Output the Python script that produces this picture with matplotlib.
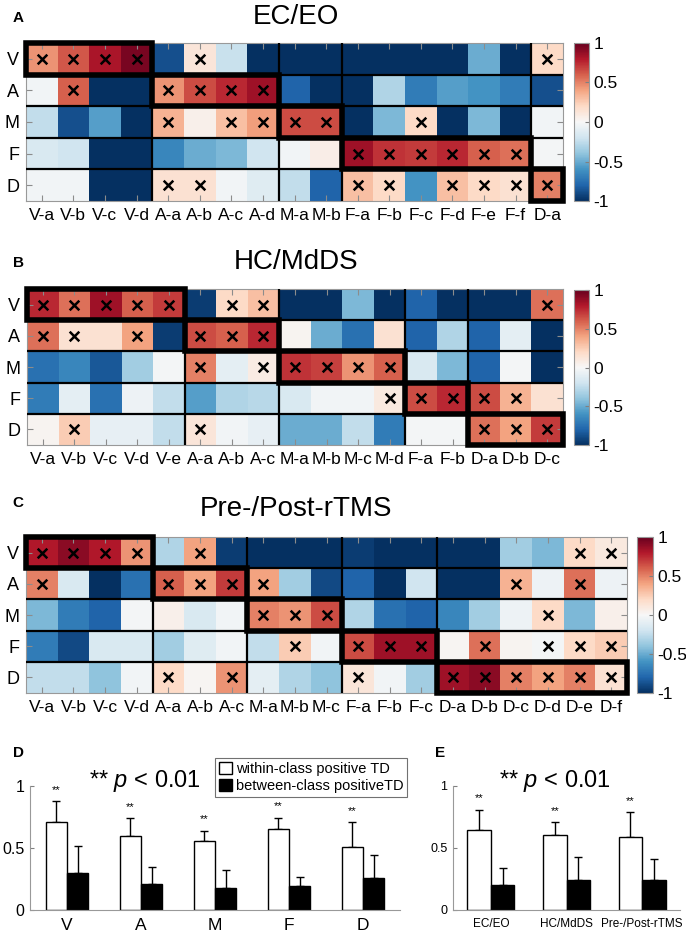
import numpy as np
import matplotlib
matplotlib.use('Agg')
import matplotlib.pyplot as plt
from matplotlib.patches import Rectangle

plt.rcParams['font.family'] = ['Liberation Sans', 'DejaVu Sans']
plt.rcParams['axes.unicode_minus'] = False
plt.rcParams['mathtext.fontset'] = 'custom'
plt.rcParams['mathtext.it'] = 'Liberation Sans:italic'
plt.rcParams['mathtext.rm'] = 'Liberation Sans'

rows = ['V', 'A', 'M', 'F', 'D']

# ---------------- Panel A : EC/EO ----------------
colsA = ['V-a', 'V-b', 'V-c', 'V-d', 'A-a', 'A-b', 'A-c', 'A-d', 'M-a', 'M-b',
         'F-a', 'F-b', 'F-c', 'F-d', 'F-e', 'F-f', 'D-a']
valsA = [
    [0.45, 0.62, 0.82, 0.95, -0.88, 0.12, -0.22, -1, -1, -1, -1, -1, -1, -1, -0.5, -1, 0.2],
    [-0.03, 0.6, -1, -1, 0.45, 0.65, 0.75, 0.85, -0.8, -1, -1, -0.3, -0.7, -0.55, -0.6, -0.7, -0.88],
    [-0.25, -0.88, -0.55, -1, 0.35, 0.05, 0.3, 0.42, 0.65, 0.65, -1, -0.45, 0.2, -1, -0.45, -1, -0.03],
    [-0.15, -0.2, -1, -1, -0.65, -0.5, -0.45, -0.2, -0.03, 0.07, 0.85, 0.72, 0.7, 0.75, 0.6, 0.55, -0.02],
    [-0.03, -0.03, -1, -1, 0.15, 0.15, -0.03, -0.12, -0.25, -0.8, 0.3, 0.2, -0.6, 0.3, 0.2, 0.15, 0.5],
]
marksA = [
    [1, 1, 1, 1, 0, 1, 0, 0, 0, 0, 0, 0, 0, 0, 0, 0, 1],
    [0, 1, 0, 0, 1, 1, 1, 1, 0, 0, 0, 0, 0, 0, 0, 0, 0],
    [0, 0, 0, 0, 1, 0, 1, 1, 1, 1, 0, 0, 1, 0, 0, 0, 0],
    [0, 0, 0, 0, 0, 0, 0, 0, 0, 0, 1, 1, 1, 1, 1, 1, 0],
    [0, 0, 0, 0, 1, 1, 0, 0, 0, 0, 1, 1, 0, 1, 1, 1, 1],
]

# ---------------- Panel B : HC/MdDS ----------------
colsB = ['V-a', 'V-b', 'V-c', 'V-d', 'V-e', 'A-a', 'A-b', 'A-c', 'M-a', 'M-b',
         'M-c', 'M-d', 'F-a', 'F-b', 'D-a', 'D-b', 'D-c']
valsB = [
    [0.75, 0.55, 0.85, 0.6, 0.7, -0.95, 0.2, 0.3, -1, -1, -0.45, -1, -0.8, -1, -1, -1, 0.55],
    [0.55, 0.15, 0.15, 0.4, -0.95, 0.65, 0.6, 0.75, 0.03, -0.5, -0.75, 0.15, -0.8, -0.3, -0.8, -0.1, -1],
    [-0.75, -0.65, -0.85, -0.35, -0.02, 0.5, -0.1, 0.08, 0.72, 0.68, 0.45, 0.6, -0.15, -0.45, -0.8, -0.02, -1],
    [-0.7, -0.1, -0.75, -0.05, -0.25, -0.55, -0.3, -0.28, -0.15, -0.03, -0.03, 0.1, 0.65, 0.75, 0.65, 0.35, 0.15],
    [0.03, 0.25, -0.08, -0.08, -0.25, 0.12, -0.03, -0.08, -0.5, -0.5, -0.25, -0.7, -0.02, -0.02, 0.55, 0.4, 0.7],
]
marksB = [
    [1, 1, 1, 1, 1, 0, 1, 1, 0, 0, 0, 0, 0, 0, 0, 0, 1],
    [1, 1, 0, 1, 0, 1, 1, 1, 0, 0, 0, 0, 0, 0, 0, 0, 0],
    [0, 0, 0, 0, 0, 1, 0, 1, 1, 1, 1, 1, 0, 0, 0, 0, 0],
    [0, 0, 0, 0, 0, 0, 0, 0, 0, 0, 0, 1, 1, 1, 1, 1, 0],
    [0, 1, 0, 0, 0, 1, 0, 0, 0, 0, 0, 0, 0, 0, 1, 1, 1],
]

# ---------------- Panel C : Pre-/Post-rTMS ----------------
colsC = ['V-a', 'V-b', 'V-c', 'V-d', 'A-a', 'A-b', 'A-c', 'M-a', 'M-b', 'M-c',
         'F-a', 'F-b', 'F-c', 'D-a', 'D-b', 'D-c', 'D-d', 'D-e', 'D-f']
valsC = [
    [0.8, 0.9, 0.8, 0.45, -0.3, 0.4, -0.95, -1, -1, -1, -0.95, -1, -1, -1, -1, -0.35, -0.45, 0.2, 0.1],
    [0.5, -0.15, -1, -0.75, 0.6, 0.4, 0.7, 0.4, -0.35, -0.9, -0.8, -1, -0.2, -1, -1, 0.35, -0.05, 0.55, -0.05],
    [-0.45, -0.7, -0.8, -0.02, 0.05, -0.15, -0.03, 0.5, 0.45, 0.65, -0.3, -0.75, -0.8, -0.65, -0.35, -0.05, 0.2, -0.45, 0.05],
    [-0.7, -0.9, -0.15, -0.15, -0.35, -0.12, -0.03, -0.25, 0.25, -0.03, 0.65, 0.85, 0.85, 0.02, 0.55, 0.03, -0.02, 0.2, 0.25],
    [-0.25, -0.25, -0.4, -0.03, 0.2, 0.02, 0.45, -0.1, -0.3, -0.4, 0.12, -0.03, -0.35, 0.85, 0.9, 0.5, 0.4, 0.5, 0.15],
]
marksC = [
    [1, 1, 1, 1, 0, 1, 0, 0, 0, 0, 0, 0, 0, 0, 0, 0, 0, 1, 1],
    [1, 0, 0, 0, 1, 1, 1, 1, 0, 0, 0, 0, 0, 0, 0, 1, 0, 1, 0],
    [0, 0, 0, 0, 0, 0, 0, 1, 1, 1, 0, 0, 0, 0, 0, 0, 1, 0, 0],
    [0, 0, 0, 0, 0, 0, 0, 0, 1, 0, 1, 1, 1, 0, 1, 0, 1, 1, 1],
    [0, 0, 0, 0, 1, 0, 1, 0, 0, 0, 1, 0, 0, 1, 1, 1, 1, 1, 1],
]

# ---------------- Panel D / E : bars ----------------
classes = ['V', 'A', 'M', 'F', 'D']
within_D = [0.71, 0.60, 0.555, 0.655, 0.51]
within_D_err = [0.17, 0.14, 0.085, 0.09, 0.20]
between_D = [0.30, 0.21, 0.18, 0.19, 0.26]
between_D_err = [0.22, 0.14, 0.14, 0.08, 0.185]

conditions = ['EC/EO', 'HC/MdDS', 'Pre-/Post-rTMS']
within_E = [0.645, 0.605, 0.59]
within_E_err = [0.165, 0.105, 0.20]
between_E = [0.205, 0.245, 0.245]
between_E_err = [0.135, 0.185, 0.165]

W, H = 686, 933
fig = plt.figure(figsize=(W / 100, H / 100), dpi=100)


def ax_px(l, t, r, b):
    return fig.add_axes([l / W, 1 - b / H, (r - l) / W, (b - t) / H])


def heatmap(box, cbox, cols, vals, marks, title, title_y, label, label_y):
    ax = ax_px(*box)
    v = np.array(vals, dtype=float)
    m = np.array(marks)
    n = len(cols)
    im = ax.imshow(v, cmap='RdBu_r', vmin=-1, vmax=1, aspect='auto',
                   interpolation='nearest')
    rr, cc = np.nonzero(m)
    ax.scatter(cc, rr, marker='x', s=48, c='k', linewidths=1.8, zorder=6)
    for r in range(1, len(rows)):
        ax.axhline(r - 0.5, color='k', lw=1.6, zorder=4)
    groups = [c.split('-')[0] for c in cols]
    for i in range(1, n):
        if groups[i] != groups[i - 1]:
            ax.axvline(i - 0.5, color='k', lw=1.6, zorder=4)
    for ri, rname in enumerate(rows):
        idx = [i for i, g in enumerate(groups) if g == rname]
        if idx:
            ax.add_patch(Rectangle((idx[0] - 0.5, ri - 0.5), len(idx), 1,
                                   fill=False, ec='k', lw=4, zorder=7,
                                   clip_on=False))
    ax.set_xticks(range(n))
    ax.set_xticklabels(cols, fontsize=12.5)
    ax.set_yticks(range(len(rows)))
    ax.set_yticklabels(rows, fontsize=13)
    ax.tick_params(direction='in', top=True, right=True, length=4,
                   color='0.55', width=0.8, pad=5)
    for s in ax.spines.values():
        s.set_color('0.6')
        s.set_linewidth(0.8)
    cax = ax_px(*cbox)
    cb = fig.colorbar(im, cax=cax, ticks=[-1, -0.5, 0, 0.5, 1])
    cb.ax.set_yticklabels(['-1', '-0.5', '0', '0.5', '1'], fontsize=12.5)
    cb.ax.tick_params(direction='in', length=3, color='0.5', pad=3)
    cb.outline.set_edgecolor('0.6')
    cb.outline.set_linewidth(0.8)
    fig.text(296 / W, 1 - title_y / H, title, ha='center', va='center',
             fontsize=20)
    fig.text(18 / W, 1 - label_y / H, label, ha='center', va='center',
             fontsize=11, fontweight='bold')
    return ax


heatmap((26, 43, 563, 201), (574, 43, 589, 201), colsA, valsA, marksA,
        'EC/EO', 17, 'A', 18)
heatmap((27, 289, 563, 445), (574, 290, 589, 445), colsB, valsB, marksB,
        'HC/MdDS', 262, 'B', 263)
heatmap((26, 537, 627, 693), (637, 537, 653, 693), colsC, valsC, marksC,
        'Pre-/Post-rTMS', 509, 'C', 503)


def bars(box, cats, wv, we, bv, be, tick_fs, x_fs, w):
    ax = ax_px(*box)
    x = np.arange(1, len(cats) + 1)
    ax.bar(x - w / 2, wv, w, color='white', edgecolor='k', lw=1.0,
           label='within-class positive TD', zorder=2)
    ax.bar(x + w / 2, bv, w, color='black', edgecolor='k', lw=1.0,
           label='between-class positiveTD', zorder=2)
    z = np.zeros(len(cats))
    ax.errorbar(x - w / 2, wv, yerr=[z, we], fmt='none', ecolor='k',
                elinewidth=1, capsize=2.8, capthick=1, zorder=1)
    ax.errorbar(x + w / 2, bv, yerr=[z, be], fmt='none', ecolor='k',
                elinewidth=1, capsize=2.8, capthick=1, zorder=1)
    for xi, top in zip(x, np.array(wv) + np.array(we)):
        ax.text(xi - w / 2 + 0.0, top + 0.05, '**', ha='center',
                va='bottom', fontsize=8)
    ax.set_xlim(0.5, len(cats) + 0.5)
    ax.set_ylim(0, 1)
    ax.set_yticks([0, 0.5, 1])
    ax.set_yticklabels(['0', '0.5', '1'], fontsize=tick_fs)
    ax.set_xticks(x)
    ax.set_xticklabels(cats, fontsize=x_fs)
    ax.tick_params(axis='x', length=0, pad=6)
    ax.tick_params(axis='y', direction='in', length=3, color='0.5', pad=4)
    for s in ['top', 'right']:
        ax.spines[s].set_visible(False)
    for s in ['left', 'bottom']:
        ax.spines[s].set_color('0.6')
        ax.spines[s].set_linewidth(0.8)
    return ax


axD = bars((30, 786, 400, 910), classes, within_D, within_D_err, between_D,
           between_D_err, 11.5, 12.5, 0.29)
axE = bars((453, 786, 680, 910), conditions, within_E, within_E_err,
           between_E, between_E_err, 9, 8.5, 0.31)

leg = axD.legend(loc='upper left', bbox_to_anchor=(215 / W, 1 - 758 / H),
                 bbox_transform=fig.transFigure, fontsize=10.5,
                 frameon=True, fancybox=False, edgecolor='0.3',
                 handlelength=0.9, handleheight=0.9, handletextpad=0.3,
                 borderpad=0.25, labelspacing=0.25, borderaxespad=0)
leg.get_frame().set_linewidth(0.8)

fig.text(145 / W, 1 - 781 / H, r'** $\mathit{p}$ < 0.01', ha='center',
         va='center', fontsize=17)
fig.text(555 / W, 1 - 781 / H, r'** $\mathit{p}$ < 0.01', ha='center',
         va='center', fontsize=17)
fig.text(19 / W, 1 - 753 / H, 'D', ha='center', va='center', fontsize=11,
         fontweight='bold')
fig.text(440 / W, 1 - 753 / H, 'E', ha='center', va='center', fontsize=11,
         fontweight='bold')

fig.savefig('out.png', dpi=100)
